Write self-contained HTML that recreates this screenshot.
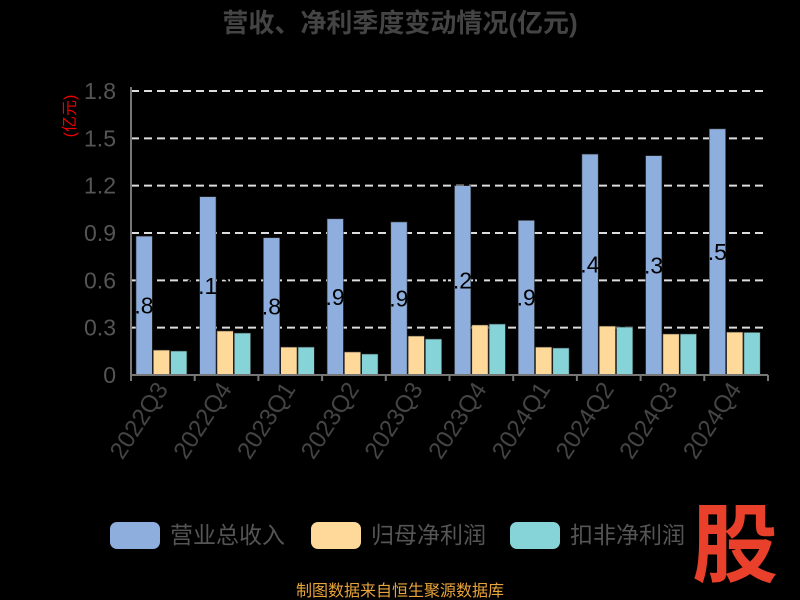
<!DOCTYPE html>
<html><head><meta charset="utf-8"><style>
body{margin:0;background:#000;}
svg{display:block;font-family:"Liberation Sans","Noto Sans CJK SC",sans-serif;}
</style></head><body>
<svg id="c" width="800" height="600" xmlns="http://www.w3.org/2000/svg">
<rect width="800" height="600" fill="#000"/>
<text x="400" y="32" text-anchor="middle" font-size="26" font-weight="bold" fill="#444">营收、净利季度变动情况(亿元)</text>
<text transform="translate(75,116) rotate(-90)" text-anchor="middle" font-size="16" fill="#e00">(亿元)</text>
<g id="grid"></g><g id="bars"></g><g id="axes"></g>
<g>
<rect x="110" y="522" width="50" height="27" rx="7" fill="#8EAEDD"/>
<text x="170" y="543" font-size="23" fill="#555">营业总收入</text>
<rect x="311" y="522" width="50" height="27" rx="7" fill="#FFD99A"/>
<text x="371" y="543" font-size="23" fill="#555">归母净利润</text>
<rect x="510" y="522" width="50" height="27" rx="7" fill="#86D4D8"/>
<text x="570" y="543" font-size="23" fill="#555">扣非净利润</text>
</g>
<text x="735" y="575" text-anchor="middle" font-size="86" font-weight="bold" fill="#e8402a">股</text>
<text x="400" y="596" text-anchor="middle" font-size="16" fill="#e8a33a">制图数据来自恒生聚源数据库</text>
</svg>
<script>
const categories=["2022Q3","2022Q4","2023Q1","2023Q2","2023Q3","2023Q4","2024Q1","2024Q2","2024Q3","2024Q4"];
const revenue=[0.88,1.13,0.87,0.99,0.97,1.20,0.98,1.40,1.39,1.56];
const netProfit=[0.158,0.279,0.177,0.146,0.247,0.317,0.177,0.31,0.26,0.272];
const deductedProfit=[0.152,0.266,0.177,0.133,0.228,0.323,0.171,0.304,0.26,0.27];
const yTicks=[0,0.3,0.6,0.9,1.2,1.5,1.8];
const NS="http://www.w3.org/2000/svg";
const x0=131,x1=768,y0=375,yTop=91,yMax=1.8;
const bw=(x1-x0)/categories.length;
const ys=v=>y0-(v/yMax)*(y0-yTop);
function mk(t,a,p){const e=document.createElementNS(NS,t);for(const k in a)e.setAttribute(k,a[k]);p.appendChild(e);return e;}
const grid=document.getElementById('grid'),bars=document.getElementById('bars'),axes=document.getElementById('axes');
yTicks.forEach(v=>{
  if(v>0){const l=mk('line',{x1:x0,x2:x1,y1:ys(v),y2:ys(v),stroke:'#ddd','stroke-width':2,'stroke-dasharray':'8,5'},grid);
  
  }
  const t=mk('text',{x:116,y:ys(v)+8,'text-anchor':'end','font-size':23,fill:'#555'},axes);
  t.textContent=v===0?'0':v.toFixed(1);
  
  
});
const series=[[revenue,'#8EAEDD','bar-revenue'],[netProfit,'#FFD99A','bar-net-profit'],[deductedProfit,'#86D4D8','bar-deducted-profit']];
categories.forEach((c,i)=>{
  const cx=x0+bw*i;
  series.forEach((s,j)=>{
    const v=s[0][i];const bx=cx+5+j*17.3;
    const r=mk('rect',{x:bx,y:ys(v),width:16.3,height:y0-ys(v),fill:s[1],stroke:'#333','stroke-width':0.6},bars);
    
    
    if(j===0){const t=mk('text',{x:bx+8,y:(ys(v)+y0)/2+8,'text-anchor':'middle','font-size':23,fill:'#000'},bars);
      t.textContent=v.toFixed(2);
      
      }
  });
  const tk=mk('line',{x1:cx,x2:cx,y1:y0,y2:y0+6,stroke:'#777','stroke-width':2},axes);
  
  
  const lt=mk('text',{transform:`translate(${cx+bw/2+6},${y0+14}) rotate(-57)`,'text-anchor':'end','font-size':24,fill:'#444'},axes);
  lt.textContent=c;
  
  
});
const ax=mk('line',{x1:x0,x2:x1,y1:y0,y2:y0,stroke:'#777','stroke-width':2},axes);


const ay=mk('line',{x1:x0,x2:x0,y1:yTop-4,y2:y0,stroke:'#777','stroke-width':2},axes);


const lt=mk('line',{x1:x1,x2:x1,y1:y0,y2:y0+6,stroke:'#777','stroke-width':2},axes);


</script>
</body></html>
